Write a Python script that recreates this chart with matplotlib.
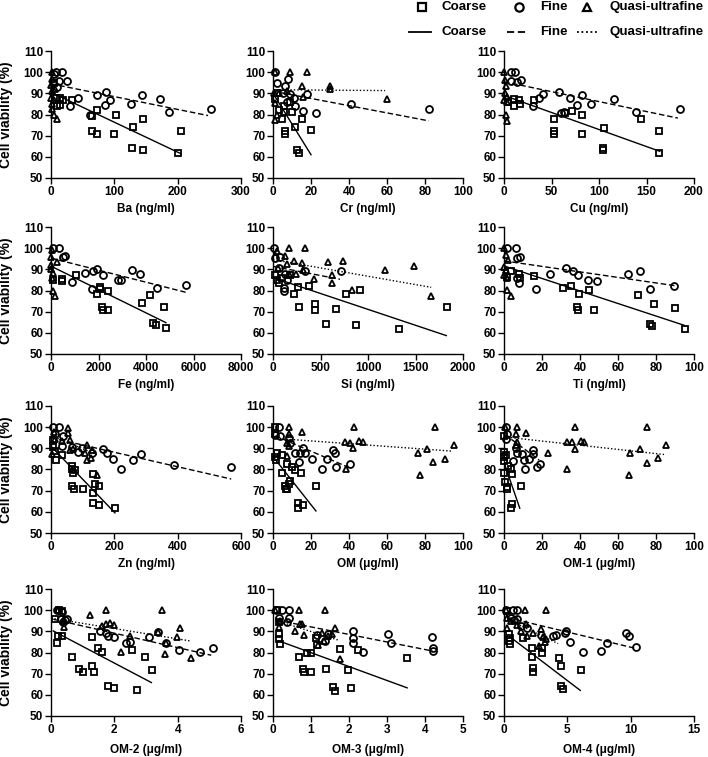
import matplotlib
matplotlib.use("Agg")
import matplotlib.pyplot as plt
from matplotlib.lines import Line2D

plt.rcParams['font.family'] = ['Liberation Sans', 'DejaVu Sans']
plt.rcParams['font.weight'] = 'bold'

# ---- data (x = concentration, y = cell viability %) ----
# Ba
ba_coarse_x = [5, 8, 10, 14, 19, 33, 14, 65, 72, 64, 72, 102, 99, 130, 146, 128, 146, 200, 205]
ba_coarse_y = [95, 88, 84, 88, 87, 87, 84.5, 79.5, 82, 72, 71, 80, 71, 74, 78, 64, 63, 62, 72]
ba_fine_x = [8, 17, 12, 25, 30, 43, 61, 72, 87, 93, 85, 126, 144, 172, 186, 253, 4, 9]
ba_fine_y = [100, 100, 96, 96, 84, 88, 80, 89, 90.5, 87, 84.5, 85, 89, 87.5, 81, 82.5, 99, 93]
ba_quasi_x = [1, 1, 0, 1, 0, 1, 1, 5, 10, 4, 6]
ba_quasi_y = [100, 97, 94, 91, 88, 85, 82.5, 80, 78, 87, 92]
ba_fit_coarse = ([0, 205], [90.5, 61.5])
ba_fit_fine = ([0, 248], [94.5, 79.5])

# Cr
cr_coarse_x = [4.7, 5.6, 6.5, 6.5, 10, 11.7, 12.6, 13.5, 15, 20, 5.6, 9, 3, 1.2, 2]
cr_coarse_y = [78, 81, 72, 70.8, 81, 74, 63, 61.8, 78, 72.5, 84, 86, 82, 87.5, 90]
cr_fine_x = [1, 2, 6.5, 8, 9, 11, 11.7, 15.6, 18, 22.6, 41, 82, 5, 7.4]
cr_fine_y = [100, 95, 93.5, 97, 89.5, 88, 84, 81.5, 89.5, 80.5, 85, 82.5, 90, 86]
cr_quasi_x = [1, 9, 18, 15, 30, 30, 60, 1.2, 2, 1.2, 3, 7.4, 16, 0.4]
cr_quasi_y = [100, 100, 100, 93.5, 93.5, 92, 87.5, 77.5, 80, 85.5, 90, 91, 88.5, 90]
cr_fit_coarse = ([0, 20], [90, 61])
cr_fit_fine = ([0, 82], [91, 77])
cr_fit_quasi = ([0, 59], [91.7, 91.3])

# Cu
cu_coarse_x = [53, 52.5, 52.5, 72, 82, 82, 64, 105, 104, 104, 144, 163, 163, 32, 16.6, 10, 16, 4, 10.5]
cu_coarse_y = [78, 72, 71, 81.5, 80, 71, 80.7, 73.5, 64, 63, 78, 72, 62, 87, 85, 84, 87, 86, 87.5]
cu_fine_x = [7, 11.6, 7, 14, 17.6, 30, 37, 41, 58, 69, 76.5, 82, 92, 116, 139, 185, 60, 63.5]
cu_fine_y = [100, 100, 96, 95.5, 96.5, 84, 88, 89.5, 90.5, 88, 84.5, 89, 85, 87.5, 81, 82.5, 80.5, 81]
cu_quasi_x = [0, 0.7, 1.7, 0.7, 2.8, 1.7, 2.8, 3.5, 0]
cu_quasi_y = [100, 96.5, 93.5, 90, 86, 80, 77, 88.5, 87]
cu_fit_coarse = ([0, 164], [89, 62.6])
cu_fit_fine = ([0, 183], [95.5, 78.3])

# Fe
fe_coarse_x = [450, 450, 1055, 1930, 2070, 2070, 2380, 2140, 2210, 2420, 3830, 4180, 4290, 4430, 4770, 4840, 100]
fe_coarse_y = [85.5, 84.5, 87.5, 78.5, 81.7, 80.5, 80, 72, 71, 71, 74, 78, 64.5, 63.7, 72, 62.5, 85]
fe_fine_x = [100, 350, 520, 590, 870, 1435, 1720, 1760, 1930, 2210, 2840, 2940, 3430, 3760, 4460, 5700]
fe_fine_y = [100, 100, 96, 96.5, 84, 88.5, 80.5, 89, 90, 87.5, 85, 85, 89.5, 88, 81, 82.5]
fe_quasi_x = [0, 0, 60, 100, 170, 100, 0, 240, 30]
fe_quasi_y = [96, 92, 86, 80, 77.5, 88.5, 90, 93.5, 99]
fe_fit_coarse = ([0, 4840], [91.5, 64.8])
fe_fit_fine = ([0, 5730], [95.3, 79])

# Si
si_coarse_x = [183, 226, 261, 272, 377, 437, 437, 554, 659, 765, 917, 871, 1323, 1834, 25, 60, 95, 42]
si_coarse_y = [87.3, 78.3, 81.5, 72.3, 82.1, 73.8, 71, 64, 71.2, 78.2, 80.2, 63.5, 62, 72, 87.4, 83.4, 85.8, 85]
si_fine_x = [7, 25, 78, 113, 113, 130, 342, 712, 60, 148]
si_fine_y = [100, 95.4, 96, 81, 80, 87.7, 89.3, 89.3, 90.6, 85]
si_quasi_x = [166, 342, 123, 219, 300, 148, 53, 166, 244, 314, 430, 582, 617, 624, 741, 836, 1182, 1489, 1665, 42]
si_quasi_y = [100, 100, 96.5, 94, 93, 92.5, 90.6, 87.7, 88, 89.8, 85.5, 93.3, 87.4, 83.7, 93.8, 80.2, 89.8, 91.4, 77.4, 98.5]
si_fit_coarse = ([0, 1824], [86.1, 58.7])
si_fit_fine = ([0, 705], [91.4, 85.3])
si_fit_quasi = ([0, 1665], [94.6, 81.5])

# Ti
ti_coarse_x = [7.9, 8.3, 15.8, 31.3, 35.2, 39.6, 38.4, 38.7, 44.9, 47.2, 70.4, 79.2, 77.1, 78, 89.8, 95, 3.5, 1.8]
ti_coarse_y = [88, 85.7, 86.8, 81.4, 82, 78.2, 72.2, 70.6, 80.2, 71, 77.8, 73.8, 64, 63.2, 71.8, 62, 89, 86.5]
ti_fine_x = [1.8, 6.5, 7, 8.3, 16.7, 24.3, 32.6, 36.3, 38.7, 44, 48.8, 65.5, 71.8, 77, 89.3, 8, 7]
ti_fine_y = [100, 100, 95.2, 96, 80.5, 88, 90.5, 89, 87.5, 85, 84.7, 87.6, 89.2, 80.8, 82.2, 83.5, 86]
ti_quasi_x = [0, 1, 0, 1.4, 1.8, 3.9, 0.9, 2.1, 0]
ti_quasi_y = [100, 96.8, 91.3, 85.7, 80.2, 77.3, 89.8, 94.5, 87.3]
ti_fit_coarse = ([0, 95], [91.6, 63.5])
ti_fit_fine = ([0, 89.8], [94, 82.3])

# Zn
zn_coarse_x = [12.6, 15.8, 33.7, 65, 65, 68.5, 76, 65, 73, 102, 132, 139, 152, 134, 152, 134, 202, 7.4, 7.4]
zn_coarse_y = [88.7, 84.5, 86.8, 81.7, 80, 78.2, 79.7, 72.2, 71, 71, 68.8, 73.2, 72, 64, 63.4, 77.7, 62, 90.7, 93.9]
zn_fine_x = [7.4, 26, 12.6, 37, 97, 84, 129, 163, 176, 195, 221, 258, 285, 387, 569, 65, 36]
zn_fine_y = [100, 100, 97, 96, 90, 88.4, 87.9, 89.5, 88, 84.8, 80, 84.5, 87.3, 82.1, 81, 90.7, 91.2]
zn_quasi_x = [9.5, 55, 55, 60, 68.5, 60, 107.5, 115, 125, 144, 12.6, 33.7, 2, 128, 113]
zn_quasi_y = [97.6, 99.8, 97.3, 93.8, 89.6, 89.1, 87.9, 91.5, 85.2, 77.4, 94.6, 93.4, 87.3, 89, 84.5]
zn_fit_coarse = ([0, 202], [91, 59.5])
zn_fit_fine = ([0, 569], [95, 75.5])
zn_fit_quasi = ([0, 145], [96, 87])

# OM
om_coarse_x = [1.2, 1.2, 2.1, 1.8, 1.2, 4.7, 6.1, 6.8, 7.4, 8.2, 9.1, 7.4, 10, 11.8, 14.9, 13.2, 13.2, 15.6, 22.8, 4.7]
om_coarse_y = [100, 96.8, 87.6, 84.5, 86, 78.2, 72.2, 70.6, 71, 73.1, 74.7, 82.4, 81.3, 79.7, 78.2, 64.2, 62, 63.4, 72.2, 86.9]
om_fine_x = [3, 1.2, 3.9, 9.1, 11.4, 13.5, 14.4, 16, 17, 20.5, 25.8, 28.6, 31.4, 32.4, 33.3, 40.7, 8.2]
om_fine_y = [100, 96.4, 95.9, 92.4, 87.6, 83.7, 88, 90, 87.6, 85, 80, 84.8, 89.2, 87.6, 81, 82.6, 94.8]
om_quasi_x = [8.6, 8.2, 15.3, 7.4, 8.2, 7.4, 42.5, 38, 40.7, 42, 45, 47.4, 38.4, 76.3, 77.2, 81, 84, 85, 90.7, 95]
om_quasi_y = [100, 96.8, 97.5, 92.4, 91.1, 86.3, 100, 92.9, 92.7, 90, 93.7, 93.2, 80, 87.6, 77.4, 89.5, 83.4, 100, 84.8, 91.6]
om_fit_coarse = ([0.7, 22.6], [85.3, 60.4])
om_fit_fine = ([1.2, 39.8], [95.9, 81])
om_fit_quasi = ([0, 93.9], [94.8, 88.7])

# OM-1
om1_coarse_x = [0, 0, 0, 0, 0, 0.35, 1.4, 1.8, 2.1, 3.5, 4.4, 4.4, 3.5, 9.2, 0.9]
om1_coarse_y = [95.6, 88.4, 85.7, 84, 78.4, 74.2, 71.8, 71, 81.5, 80, 77.8, 63.6, 62, 72.2, 87]
om1_fine_x = [0.9, 1.8, 1.2, 4.9, 7, 9.7, 10.6, 13.2, 15, 15, 10.9, 17.3, 19, 6.2]
om1_fine_y = [100, 96.6, 94.6, 84, 88, 87.3, 84.5, 85, 89.2, 87.3, 80, 81, 82.6, 90]
om1_quasi_x = [0.35, 7, 6.5, 11.4, 6.7, 6.2, 23.4, 33, 33, 35.7, 37.3, 37.5, 40.5, 42.3, 66.4, 66, 71.7, 75.2, 75.2, 81.3, 85.4]
om1_quasi_y = [100, 100, 96.6, 97.3, 93, 91.6, 88, 80, 93, 93, 100, 89.7, 93.5, 93, 87.6, 77.4, 89.5, 100, 83.2, 85.5, 91.5]
om1_fit_coarse = ([0.5, 8.3], [82, 61.7])
om1_fit_fine = ([0.35, 18.5], [96.6, 84.5])
om1_fit_quasi = ([0, 84.2], [95.4, 87.1])

# OM-2
om2_coarse_x = [0.13, 0.2, 0.23, 0.34, 0.26, 0.34, 0.65, 0.89, 1, 1.28, 1.31, 1.36, 1.47, 1.6, 1.8, 2, 2.57, 2.96, 2.7, 3.19]
om2_coarse_y = [96, 84.3, 87.9, 87.6, 100, 99.7, 77.9, 72, 71, 87.1, 73.5, 71, 82, 80.3, 64.2, 63.4, 81.3, 77.9, 62.2, 71.8]
om2_fine_x = [0.18, 0.34, 0.3, 0.44, 0.39, 0.49, 1.54, 1.73, 1.8, 2, 2.36, 2.49, 3.1, 3.38, 4.03, 4.72, 5.11, 3.62]
om2_fine_y = [100, 98.9, 95.7, 95.4, 94.2, 95.7, 90.2, 89, 87.9, 87.4, 84.3, 85, 87.4, 89.5, 81, 80.3, 82.3, 84.3]
om2_quasi_x = [0.23, 0.41, 0.39, 1.23, 1.75, 1.6, 1.75, 1.85, 2, 2.22, 2.49, 3.52, 3.38, 3.59, 3.98, 4.08, 4.41, 3.64]
om2_quasi_y = [100, 91.9, 95.1, 97.5, 100, 92.3, 93.5, 94, 93.2, 80.3, 87.9, 100, 89.5, 79.2, 87.4, 91.4, 77.3, 84.7]
om2_fit_coarse = ([0.07, 3.17], [90.2, 65.8])
om2_fit_fine = ([0.07, 5.06], [95.7, 78.7])
om2_fit_quasi = ([0, 4.38], [96.2, 85.5])

# OM-3
om3_coarse_x = [0.1, 0.15, 0.15, 0.19, 0.15, 0.69, 0.78, 0.82, 0.89, 1, 1, 1.13, 1.16, 1.39, 1.77, 1.58, 1.64, 1.97, 2.04, 2.24, 3.53]
om3_coarse_y = [100, 88.7, 86.3, 84, 94.2, 78.1, 72, 71, 80, 80, 70.9, 87, 83.4, 72, 81.8, 63.8, 61.8, 71.7, 63.3, 81, 77.6]
om3_fine_x = [0.09, 0.24, 0.41, 0.15, 0.41, 0.37, 1.16, 1.45, 2.1, 2.1, 2.1, 2.36, 3.11, 3.03, 4.18, 4.2, 4.2, 1.38]
om3_fine_y = [100, 100, 100, 96.2, 96.5, 94.6, 88.3, 88.9, 90.2, 87, 84.7, 80.3, 84.4, 88.9, 87.4, 82, 80.7, 85.5]
om3_quasi_x = [0.06, 0.68, 1.38, 0.15, 0.19, 0.59, 0.7, 0.76, 0.82, 1.18, 1.29, 1.35, 1.44, 1.62, 1.75, 1.54]
om3_quasi_y = [100, 100, 100, 92.1, 94.9, 90, 93.7, 93.4, 88.4, 83.4, 89.4, 85.5, 87.8, 91.5, 77.1, 88.6]
om3_fit_coarse = ([0.15, 3.53], [85.5, 63.3])
om3_fit_fine = ([0.1, 4.2], [95.3, 80.7])
om3_fit_quasi = ([0.1, 1.73], [95, 85.8])

# OM-4
om4_coarse_x = [0.4, 0.47, 0.4, 0.47, 1.53, 2.24, 2.24, 2.3, 2.32, 3.03, 3.03, 4.35, 4.49, 4.49, 4.62, 6.07, 0.26]
om4_coarse_y = [88.6, 87, 85.2, 84.2, 87, 82, 78, 72.6, 71, 81.9, 80, 77.6, 73.7, 64.2, 62.6, 71.8, 99.7]
om4_fine_x = [0.13, 0.74, 1, 0.53, 0.8, 1.05, 1.32, 1.85, 2.9, 3.83, 4.1, 4.8, 4.93, 5.22, 6.2, 7.65, 8.1, 9.63, 9.84, 10.42]
om4_fine_y = [100, 100, 100, 96.5, 95.3, 95.7, 92.7, 91.5, 88.4, 87.9, 88.2, 89, 90.2, 85, 80.3, 80.8, 84.7, 89.2, 87.6, 82.4]
om4_quasi_x = [0.13, 0.26, 0.21, 1.64, 3.35, 1.05, 1.32, 1.71, 1.85, 2.32, 2.77, 2.9, 3.11, 3.22, 3.35, 0.53]
om4_quasi_y = [100, 96.2, 91.5, 100, 100, 92.9, 90.2, 93.4, 87.9, 89.2, 83.2, 91, 87.4, 85, 86.3, 95]
om4_fit_coarse = ([0.47, 6.02], [87.4, 62.1])
om4_fit_fine = ([0.26, 10.42], [96.5, 81.9])
om4_fit_quasi = ([0.26, 4.27], [95.7, 84.2])

xlabels = ["Ba (ng/ml)", "Cr (ng/ml)", "Cu (ng/ml)",
           "Fe (ng/ml)", "Si (ng/ml)", "Ti (ng/ml)",
           "Zn (ng/ml)", "OM (\u03bcg/ml)", "OM-1 (\u03bcg/ml)",
           "OM-2 (\u03bcg/ml)", "OM-3 (\u03bcg/ml)", "OM-4 (\u03bcg/ml)"]
xmax = [300, 100, 200, 8000, 2000, 100, 600, 100, 100, 6, 5, 15]
xstep = [100, 20, 50, 2000, 500, 20, 200, 20, 20, 2, 1, 5]
series_names = ["Coarse", "Fine", "Quasi-ultrafine"]

panels = [
    (ba_coarse_x, ba_coarse_y, ba_fine_x, ba_fine_y, ba_quasi_x, ba_quasi_y, ba_fit_coarse, ba_fit_fine, None),
    (cr_coarse_x, cr_coarse_y, cr_fine_x, cr_fine_y, cr_quasi_x, cr_quasi_y, cr_fit_coarse, cr_fit_fine, cr_fit_quasi),
    (cu_coarse_x, cu_coarse_y, cu_fine_x, cu_fine_y, cu_quasi_x, cu_quasi_y, cu_fit_coarse, cu_fit_fine, None),
    (fe_coarse_x, fe_coarse_y, fe_fine_x, fe_fine_y, fe_quasi_x, fe_quasi_y, fe_fit_coarse, fe_fit_fine, None),
    (si_coarse_x, si_coarse_y, si_fine_x, si_fine_y, si_quasi_x, si_quasi_y, si_fit_coarse, si_fit_fine, si_fit_quasi),
    (ti_coarse_x, ti_coarse_y, ti_fine_x, ti_fine_y, ti_quasi_x, ti_quasi_y, ti_fit_coarse, ti_fit_fine, None),
    (zn_coarse_x, zn_coarse_y, zn_fine_x, zn_fine_y, zn_quasi_x, zn_quasi_y, zn_fit_coarse, zn_fit_fine, zn_fit_quasi),
    (om_coarse_x, om_coarse_y, om_fine_x, om_fine_y, om_quasi_x, om_quasi_y, om_fit_coarse, om_fit_fine, om_fit_quasi),
    (om1_coarse_x, om1_coarse_y, om1_fine_x, om1_fine_y, om1_quasi_x, om1_quasi_y, om1_fit_coarse, om1_fit_fine, om1_fit_quasi),
    (om2_coarse_x, om2_coarse_y, om2_fine_x, om2_fine_y, om2_quasi_x, om2_quasi_y, om2_fit_coarse, om2_fit_fine, om2_fit_quasi),
    (om3_coarse_x, om3_coarse_y, om3_fine_x, om3_fine_y, om3_quasi_x, om3_quasi_y, om3_fit_coarse, om3_fit_fine, om3_fit_quasi),
    (om4_coarse_x, om4_coarse_y, om4_fine_x, om4_fine_y, om4_quasi_x, om4_quasi_y, om4_fit_coarse, om4_fit_fine, om4_fit_quasi),
]

# ---- figure ----
W, H = 708, 757
fig = plt.figure(figsize=(W / 100, H / 100), dpi=100)

col_left = [51, 273, 504]
row_bottom = [178, 354, 533, 716]
ax_w, ax_h = 190, 127

mk = dict(markerfacecolor='none', markeredgecolor='black', markeredgewidth=1.3,
          markersize=5, linestyle='none', clip_on=False)
styles = {'coarse': '-', 'fine': (0, (4, 2)), 'quasi': (0, (1, 1.5))}
markers = ['s', 'o', '^']

for i, p in enumerate(panels):
    r, c = divmod(i, 3)
    ax = fig.add_axes([col_left[c] / W, 1 - row_bottom[r] / H, ax_w / W, ax_h / H])
    cx, cy, fx, fy, qx, qy, fc, ff, fq = p
    ax.plot(cx, cy, marker='s', **mk)
    ax.plot(fx, fy, marker='o', **mk)
    ax.plot(qx, qy, marker='^', **mk)
    ax.plot(fc[0], fc[1], color='black', lw=1.0, linestyle=styles['coarse'])
    ax.plot(ff[0], ff[1], color='black', lw=1.0, linestyle=styles['fine'])
    if fq is not None:
        ax.plot(fq[0], fq[1], color='black', lw=1.0, linestyle=styles['quasi'])

    ax.set_xlim(0, xmax[i])
    ax.set_ylim(50, 110)
    ax.set_xticks(list(range(0, xmax[i] + 1, xstep[i])))
    ax.set_yticks(range(50, 111, 10))
    for s in ['top', 'right']:
        ax.spines[s].set_visible(False)
    for s in ['left', 'bottom']:
        ax.spines[s].set_linewidth(1.0)
    ax.tick_params(direction='out', length=4, width=1.0, labelsize=8.5, pad=1.5)
    for lab in ax.get_xticklabels() + ax.get_yticklabels():
        lab.set_fontweight('bold')
    ax.set_xlabel(xlabels[i], fontsize=8.5, fontweight='bold', labelpad=6 if r == 3 else 4)
    if c == 0:
        ax.set_ylabel("Cell viability (%)", fontsize=10, fontweight='bold')
        ax.yaxis.set_label_coords(-0.2, 0.5)

# legend, two rows (symbols, then regression lines), placed as in the original
row_y = [1 - 7 / H, 1 - 32 / H]
sym_x = [422, 519, 587]
line_x = [(409, 431), (507, 527), (577, 597)]
text_x = [442, 540, 610]
for k in range(3):
    fig.add_artist(Line2D([sym_x[k] / W], [row_y[0]], marker=markers[k],
                          markerfacecolor='none', markeredgecolor='black',
                          markeredgewidth=1.6, markersize=6, linestyle='none',
                          transform=fig.transFigure))
    fig.add_artist(Line2D([line_x[k][0] / W, line_x[k][1] / W], [row_y[1], row_y[1]],
                          color='black', lw=1.3, linestyle=list(styles.values())[k],
                          transform=fig.transFigure))
    for y in row_y:
        fig.text(text_x[k] / W, y, series_names[k], fontsize=9.6, fontweight='bold',
                 ha='left', va='center')

fig.savefig("out.png", dpi=100)
